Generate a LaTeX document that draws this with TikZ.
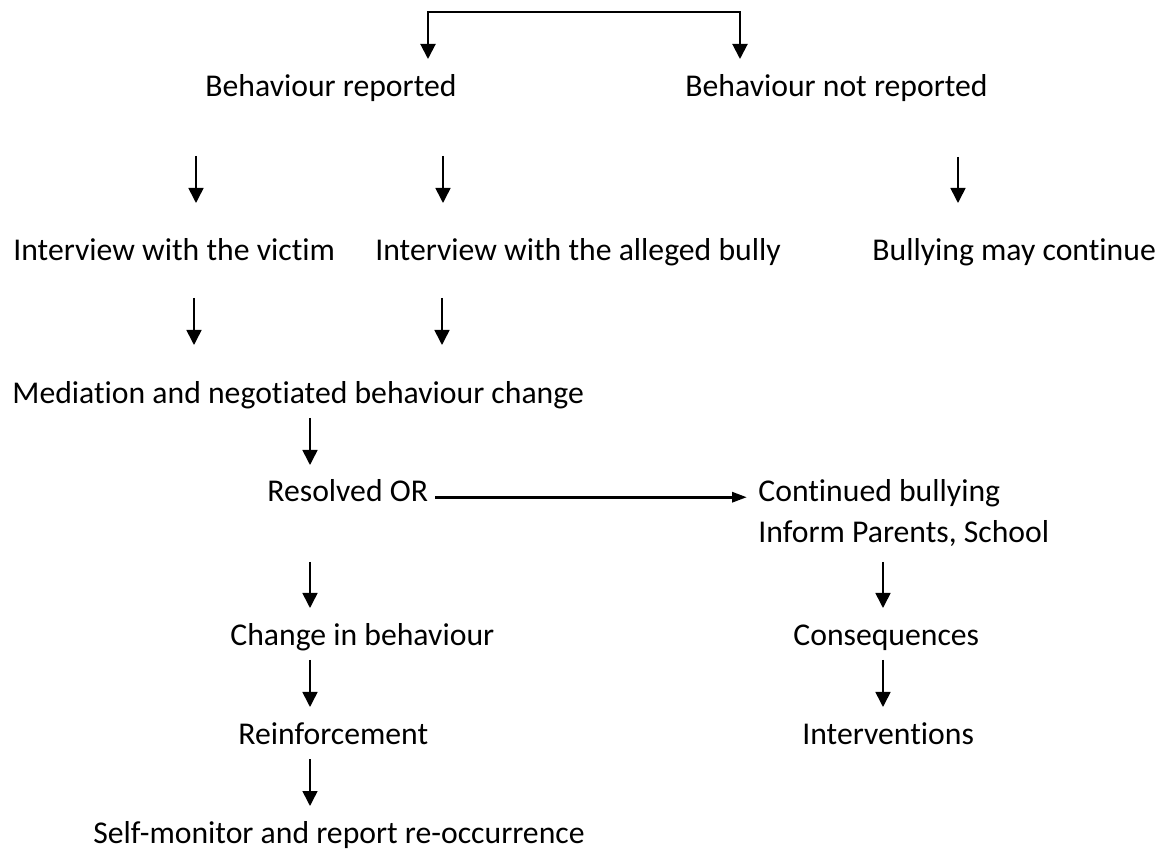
\documentclass[tikz,border=0pt]{standalone}
\usepackage{fontspec}
\setmainfont{Carlito}[Ligatures=NoCommon]
\usetikzlibrary{arrows.meta}

\begin{document}
\begin{tikzpicture}[
    x=0.5pt, y=-0.5pt,
    every node/.style={inner sep=0pt, anchor=base west, font=\fontsize{15.85}{19}\selectfont},
    arr/.style={line width=0.8pt, -{Triangle[width=7.5pt,length=7.5pt]}},
    longarr/.style={line width=1.5pt, -{Triangle[width=5pt,length=7.5pt]}}
]
\useasboundingbox (0,0) rectangle (1164,850);

\node (rep)    at (205,97)  {Behaviour reported};
\node (notrep) at (685,97)  {Behaviour not reported};
\node (victim) at (13,261)  {Interview with the victim};
\node (bully)  at (375,261) {Interview with the alleged bully};
\node (cont)   at (872,261) {Bullying may continue};
\node (med)    at (12,404)  {Mediation and negotiated behaviour change};
\node (res)    at (267,502) {Resolved OR};
\node (cb)     at (758,502) {Continued bullying};
\node (inform) at (758,543) {Inform Parents, School};
\node (chg)    at (230,646) {Change in behaviour};
\node (cons)   at (793,646) {Consequences};
\node (reinf)  at (238,745) {Reinforcement};
\node (interv) at (802,745) {Interventions};
\node (self)   at (93,843)  {Self-monitor and report re-occurrence};

% split at the top
\coordinate (topL) at (428,12);
\coordinate (topR) at (740,12);
\coordinate (tipL) at (428,59);
\coordinate (tipR) at (740,59);
\draw[line width=1pt, {Triangle[width=7.5pt,length=7.5pt]}-{Triangle[width=7.5pt,length=7.5pt]}]
    (tipL) -- (topL) -- (topR) -- (tipR);

% short down arrows
\foreach \n/\x/\ya/\yb in {a/196/156/203, b/443/156/203, c/958/157/203,
    d/194/298/345, e/442/298/345, f/310/418/465,
    g/310/562/608, h/883/562/608, i/310/660/707, j/883/660/707, k/310/759/806}{
  \coordinate (\n top) at (\x,\ya);
  \coordinate (\n tip) at (\x,\yb);
  \draw[arr] (\n top) -- (\n tip);
}

\draw[longarr, shorten <=3.5pt, shorten >=5.5pt] (res.mid east) -- (cb.mid west);
\end{tikzpicture}
\end{document}
